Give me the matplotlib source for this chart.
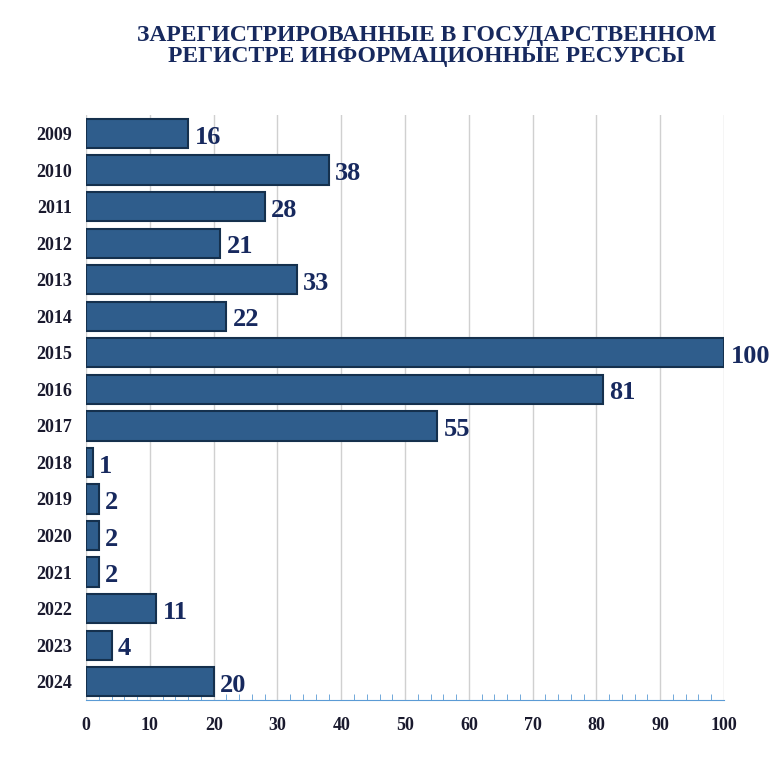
import matplotlib.pyplot as plt
from matplotlib.ticker import MultipleLocator

years = ['2009', '2010', '2011', '2012', '2013', '2014', '2015', '2016',
         '2017', '2018', '2019', '2020', '2021', '2022', '2023', '2024']
counts = [16, 38, 28, 21, 33, 22, 100, 81, 55, 1, 2, 2, 2, 11, 4, 20]
title = 'ЗАРЕГИСТРИРОВАННЫЕ В ГОСУДАРСТВЕННОМ\nРЕГИСТРЕ ИНФОРМАЦИОННЫЕ РЕСУРСЫ'

navy = '#17295e'
plt.rcParams['font.family'] = 'Liberation Serif'
plt.rcParams['font.weight'] = 'bold'

fig = plt.figure(figsize=(7.76, 7.68), dpi=100)
ax = fig.add_axes([0.111, 0.0885, 0.822, 0.7615])

pos = list(range(len(years)))
ax.barh(pos, counts, height=0.8, color='#2f5d8c', edgecolor='#15304d',
        linewidth=1.5, zorder=3)
for p, v in zip(pos, counts):
    ax.text(v + 1, p + 0.1, str(v), va='center', ha='left', fontsize=19,
            fontweight='bold', color=navy, zorder=4)

ax.set_ylim(len(years) - 0.5, -0.5)
ax.set_yticks(pos)
ax.set_yticklabels(years, fontsize=13, fontweight='bold', color='#1a1a2e')
ax.set_xlim(0, 100)
ax.set_xticks(range(0, 101, 10))
ax.xaxis.set_minor_locator(MultipleLocator(2))
ax.tick_params(axis='x', labelsize=13, length=0, pad=12, labelcolor='#1a1a2e')
ax.tick_params(axis='x', which='minor', length=4, color='#5b9bd5', direction='in')
ax.tick_params(axis='y', length=0, pad=10)
ax.grid(axis='x', color='#d0d0d0', linewidth=1, zorder=0)
for s in ['top', 'right', 'left']:
    ax.spines[s].set_visible(False)
ax.spines['bottom'].set_color('#5b9bd5')

fig.text(0.55, 0.94, title, ha='center', va='center', fontsize=17,
         fontweight='bold', color=navy, linespacing=1.05)

fig.savefig('out.png', dpi=100)
